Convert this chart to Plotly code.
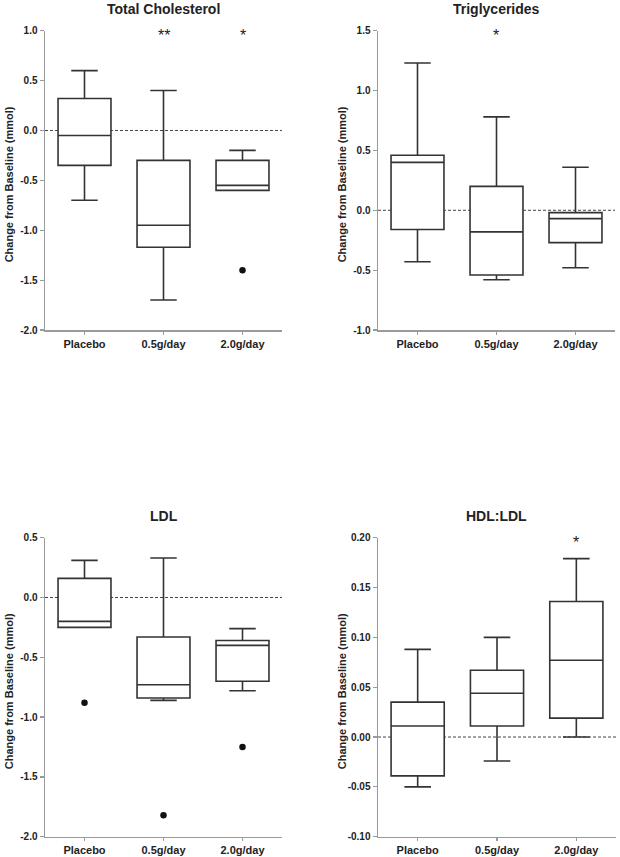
import plotly.graph_objects as go

categories = ["Placebo", "0.5g/day", "2.0g/day"]

# Total Cholesterol
tc_lower = [-0.70, -1.70, -0.60]
tc_q1 = [-0.35, -1.17, -0.60]
tc_median = [-0.05, -0.95, -0.55]
tc_q3 = [0.32, -0.30, -0.30]
tc_upper = [0.60, 0.40, -0.20]
tc_out_x = ["2.0g/day"]
tc_out_y = [-1.40]
tc_sig = ["", "**", "*"]
tc_ticks = [1.0, 0.5, 0.0, -0.5, -1.0, -1.5, -2.0]

# Triglycerides
tg_lower = [-0.43, -0.58, -0.48]
tg_q1 = [-0.16, -0.54, -0.27]
tg_median = [0.40, -0.18, -0.07]
tg_q3 = [0.46, 0.20, -0.02]
tg_upper = [1.23, 0.78, 0.36]
tg_out_x = []
tg_out_y = []
tg_sig = ["", "*", ""]
tg_ticks = [1.5, 1.0, 0.5, 0.0, -0.5, -1.0]

# LDL
ldl_lower = [-0.25, -0.86, -0.78]
ldl_q1 = [-0.25, -0.84, -0.70]
ldl_median = [-0.20, -0.73, -0.40]
ldl_q3 = [0.16, -0.33, -0.36]
ldl_upper = [0.31, 0.33, -0.26]
ldl_out_x = ["Placebo", "0.5g/day", "2.0g/day"]
ldl_out_y = [-0.88, -1.82, -1.25]
ldl_sig = ["", "", ""]
ldl_ticks = [0.5, 0.0, -0.5, -1.0, -1.5, -2.0]

# HDL:LDL
hl_lower = [-0.050, -0.024, 0.000]
hl_q1 = [-0.039, 0.011, 0.019]
hl_median = [0.011, 0.044, 0.077]
hl_q3 = [0.035, 0.067, 0.136]
hl_upper = [0.088, 0.100, 0.179]
hl_out_x = []
hl_out_y = []
hl_sig = ["", "", "*"]
hl_ticks = [0.20, 0.15, 0.10, 0.05, 0.00, -0.05, -0.10]

W, H = 620, 857
FONT = "Arial, 'Liberation Sans', sans-serif"
TXT = "#222222"
AX = "#9a9a9a"
BOX = "#333333"

panels = [
    dict(title="Total Cholesterol", lo=tc_lower, q1=tc_q1, med=tc_median, q3=tc_q3, hi=tc_upper,
         ox=tc_out_x, oy=tc_out_y, sig=tc_sig, ticks=tc_ticks, fmt="{:.1f}",
         px=(45, 282), py=(30.7, 330)),
    dict(title="Triglycerides", lo=tg_lower, q1=tg_q1, med=tg_median, q3=tg_q3, hi=tg_upper,
         ox=tg_out_x, oy=tg_out_y, sig=tg_sig, ticks=tg_ticks, fmt="{:.1f}",
         px=(378, 615), py=(30.7, 330)),
    dict(title="LDL", lo=ldl_lower, q1=ldl_q1, med=ldl_median, q3=ldl_q3, hi=ldl_upper,
         ox=ldl_out_x, oy=ldl_out_y, sig=ldl_sig, ticks=ldl_ticks, fmt="{:.1f}",
         px=(45, 282), py=(537.7, 836.7)),
    dict(title="HDL:LDL", lo=hl_lower, q1=hl_q1, med=hl_median, q3=hl_q3, hi=hl_upper,
         ox=hl_out_x, oy=hl_out_y, sig=hl_sig, ticks=hl_ticks, fmt="{:.2f}",
         px=(378, 616), py=(537.7, 836.7)),
]

fig = go.Figure()
annotations = []
shapes = []
layout_axes = {}

for i, p in enumerate(panels, start=1):
    xa = "x" if i == 1 else f"x{i}"
    ya = "y" if i == 1 else f"y{i}"
    xkey = "xaxis" if i == 1 else f"xaxis{i}"
    ykey = "yaxis" if i == 1 else f"yaxis{i}"

    fig.add_trace(go.Box(
        x=categories, q1=p["q1"], median=p["med"], q3=p["q3"],
        lowerfence=p["lo"], upperfence=p["hi"],
        xaxis=xa, yaxis=ya, width=0.67, whiskerwidth=0.5,
        fillcolor="white", line=dict(color=BOX, width=1.6),
        boxpoints=False, hoverinfo="skip", showlegend=False,
    ))
    if p["ox"]:
        fig.add_trace(go.Scatter(
            x=p["ox"], y=p["oy"], mode="markers", xaxis=xa, yaxis=ya,
            marker=dict(color="#111111", size=6.5), hoverinfo="skip", showlegend=False,
        ))

    x0, x1 = p["px"][0] / W, p["px"][1] / W
    y0, y1 = 1 - p["py"][1] / H, 1 - p["py"][0] / H
    ymax, ymin = max(p["ticks"]), min(p["ticks"])

    layout_axes[xkey] = dict(
        domain=[x0, x1], anchor=ya, type="category", categoryorder="array",
        categoryarray=categories, range=[-0.5, 2.5], automargin=False,
        showline=True, linecolor=AX, linewidth=1.5, ticks="outside", ticklen=3,
        tickcolor=AX, tickwidth=1.2, showgrid=False, zeroline=False,
        tickfont=dict(family=FONT, size=11, color=TXT, weight="bold"), fixedrange=True,
    )
    layout_axes[ykey] = dict(
        domain=[y0, y1], anchor=xa, range=[ymin, ymax], automargin=False,
        tickvals=p["ticks"], ticktext=[p["fmt"].format(v) for v in p["ticks"]],
        showline=True, linecolor=AX, linewidth=1.5, ticks="outside", ticklen=4,
        tickcolor=AX, tickwidth=1.2, showgrid=False, zeroline=False,
        tickfont=dict(family=FONT, size=10, color=TXT, weight="bold"), fixedrange=True,
    )

    shapes.append(dict(type="line", xref=f"{xa} domain", yref=ya, x0=0, x1=1, y0=0, y1=0,
                       line=dict(color="#444444", width=1, dash="3px,2px"), layer="below"))

    annotations.append(dict(text=p["title"], xref="paper", yref="paper",
                            x=(x0 + x1) / 2, y=y1 + 22 / H, xanchor="center", yanchor="middle",
                            showarrow=False, font=dict(family=FONT, size=14, color=TXT, weight="bold")))
    annotations.append(dict(text="Change from Baseline (mmol)", xref="paper", yref="paper",
                            x=(p["px"][0] - 36) / W, y=(y0 + y1) / 2 - 4 / H, textangle=-90,
                            xanchor="center", yanchor="middle", showarrow=False,
                            font=dict(family=FONT, size=11, color=TXT, weight="bold")))
    for cat, s in zip(categories, p["sig"]):
        if s:
            annotations.append(dict(text=s, xref=xa, yref=ya, x=cat, y=ymax, yshift=-5,
                                    xanchor="center", yanchor="middle", showarrow=False,
                                    font=dict(family=FONT, size=16, color=TXT)))

fig.update_layout(
    width=W, height=H, margin=dict(l=0, r=0, t=0, b=0, pad=0), autosize=False,
    paper_bgcolor="white", plot_bgcolor="white",
    annotations=annotations, shapes=shapes, showlegend=False,
    **layout_axes,
)

fig.write_html(
    "out.html",
    config={"displayModeBar": False, "staticPlot": True},
    post_script="document.body.style.margin='0';document.body.style.padding='0';document.body.style.overflow='hidden';",
)
